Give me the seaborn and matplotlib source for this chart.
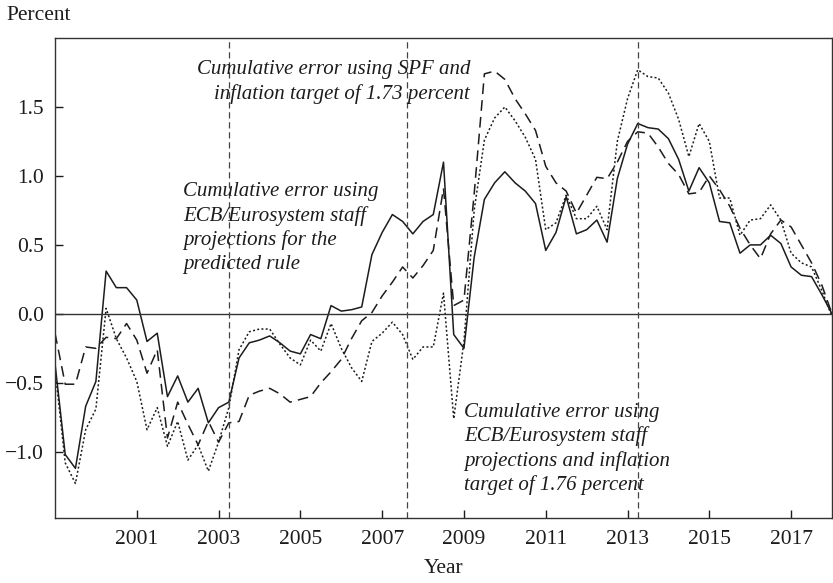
import matplotlib
matplotlib.use("Agg")
import matplotlib.pyplot as plt
import pandas as pd
import seaborn as sns

# quarterly observations, 1999Q1 .. 2018Q1
quarters = pd.period_range("1999Q1", "2018Q1", freq="Q")

predicted_rule = [
    -0.36, -1.02, -1.12, -0.67, -0.49, 0.31, 0.19, 0.19, 0.10, -0.20,
    -0.14, -0.60, -0.45, -0.64, -0.54, -0.79, -0.68, -0.64, -0.32, -0.21,
    -0.19, -0.16, -0.21, -0.27, -0.29, -0.15, -0.18, 0.06, 0.02, 0.03,
    0.05, 0.43, 0.59, 0.72, 0.67, 0.58, 0.67, 0.72, 1.10, -0.15,
    -0.25, 0.41, 0.83, 0.95, 1.03, 0.95, 0.89, 0.80, 0.46, 0.59,
    0.85, 0.58, 0.61, 0.68, 0.52, 0.98, 1.23, 1.38, 1.35, 1.34,
    1.27, 1.12, 0.89, 1.06, 0.95, 0.67, 0.66, 0.44, 0.50, 0.50,
    0.57, 0.51, 0.34, 0.28, 0.27, 0.14, 0.00,
]
spf_target = [
    -0.14, -0.51, -0.51, -0.24, -0.25, -0.17, -0.18, -0.07, -0.19, -0.43,
    -0.26, -0.90, -0.64, -0.80, -0.95, -0.78, -0.93, -0.79, -0.78, -0.59,
    -0.56, -0.54, -0.58, -0.64, -0.62, -0.60, -0.50, -0.42, -0.33, -0.18,
    -0.05, 0.01, 0.13, 0.23, 0.34, 0.26, 0.35, 0.46, 0.91, 0.06,
    0.10, 0.87, 1.74, 1.76, 1.70, 1.56, 1.45, 1.33, 1.07, 0.95,
    0.89, 0.73, 0.86, 0.99, 0.98, 1.10, 1.25, 1.32, 1.31, 1.21,
    1.09, 1.01, 0.87, 0.88, 1.00, 0.90, 0.78, 0.62, 0.50, 0.40,
    0.58, 0.68, 0.63, 0.50, 0.37, 0.21, 0.00,
]
ecb_target = [
    -0.40, -1.08, -1.23, -0.84, -0.69, 0.04, -0.18, -0.32, -0.49, -0.84,
    -0.68, -0.96, -0.78, -1.06, -0.95, -1.14, -0.93, -0.68, -0.26, -0.13,
    -0.11, -0.11, -0.22, -0.32, -0.37, -0.19, -0.27, -0.07, -0.25, -0.39,
    -0.49, -0.20, -0.14, -0.06, -0.15, -0.33, -0.24, -0.24, 0.15, -0.76,
    -0.20, 0.75, 1.26, 1.42, 1.50, 1.40, 1.28, 1.12, 0.61, 0.66,
    0.86, 0.69, 0.69, 0.78, 0.61, 1.25, 1.56, 1.77, 1.72, 1.71,
    1.60, 1.41, 1.14, 1.38, 1.25, 0.84, 0.84, 0.57, 0.68, 0.69,
    0.79, 0.68, 0.44, 0.37, 0.34, 0.17, -0.02,
]

event_lines = [2003.25, 2007.6, 2013.25]
x_ticks = [2001, 2003, 2005, 2007, 2009, 2011, 2013, 2015, 2017]
y_ticks = [-1.0, -0.5, 0.0, 0.5, 1.0, 1.5]
y_labels = ["\u22121.0", "\u22120.5", "0.0", "0.5", "1.0", "1.5"]

df = pd.DataFrame({
    "year": [q.year + (q.quarter - 1) / 4 for q in quarters],
    "solid": predicted_rule,
    "dashed": spf_target,
    "dotted": ecb_target,
})

sns.set_style("ticks")
plt.rcParams["font.family"] = ["Liberation Serif", "DejaVu Serif"]

fig = plt.figure(figsize=(8.33, 5.83), dpi=100)
ax = fig.add_axes([55 / 833, 65 / 583, 777 / 833, 480 / 583])

ink = "#1c1c1c"
sns.lineplot(data=df, x="year", y="solid", ax=ax, color=ink, lw=1.1)
sns.lineplot(data=df, x="year", y="dashed", ax=ax, color=ink, lw=1.1,
             linestyle=(0, (7, 4)))
sns.lineplot(data=df, x="year", y="dotted", ax=ax, color=ink, lw=1.1,
             linestyle=(0, (1.3, 1.5)))

ax.axhline(0, color="#333333", lw=1.0)
for v in event_lines:
    ax.axvline(v, color="#444444", lw=0.9, linestyle=(0, (5, 3)))

ax.set_xlim(1999, 2018)
ax.set_ylim(-1.48, 2.0)
ax.set_xticks(x_ticks)
ax.set_xticklabels([str(t) for t in x_ticks])
ax.set_yticks(y_ticks)
ax.set_yticklabels(y_labels)
ax.tick_params(direction="in", length=6, width=1, labelsize=15.5,
               colors=ink, pad=8)
ax.tick_params(axis="x", pad=9)
for s in ax.spines.values():
    s.set_color("#333333")
    s.set_linewidth(1.0)

ax.set_xlabel("Year", fontsize=15.5, color=ink, labelpad=7)
ax.set_ylabel("")
fig.text(6 / 833, 1 - 15 / 583, "Percent", fontsize=15.5, color=ink,
         va="center", ha="left")

note = dict(fontsize=15, style="italic", color=ink, linespacing=1.31)
ax.text(2009.15, 1.84, "Cumulative error using SPF and\ninflation target of 1.73 percent",
        ha="right", va="top", multialignment="right", **note)
ax.text(2002.13, 0.955, "Cumulative error using\nECB/Eurosystem staff\nprojections for the\npredicted rule",
        ha="left", va="top", **note)
ax.text(2009.0, -0.645, "Cumulative error using\nECB/Eurosystem staff\nprojections and inflation\ntarget of 1.76 percent",
        ha="left", va="top", **note)

fig.savefig("out.png", dpi=100)
